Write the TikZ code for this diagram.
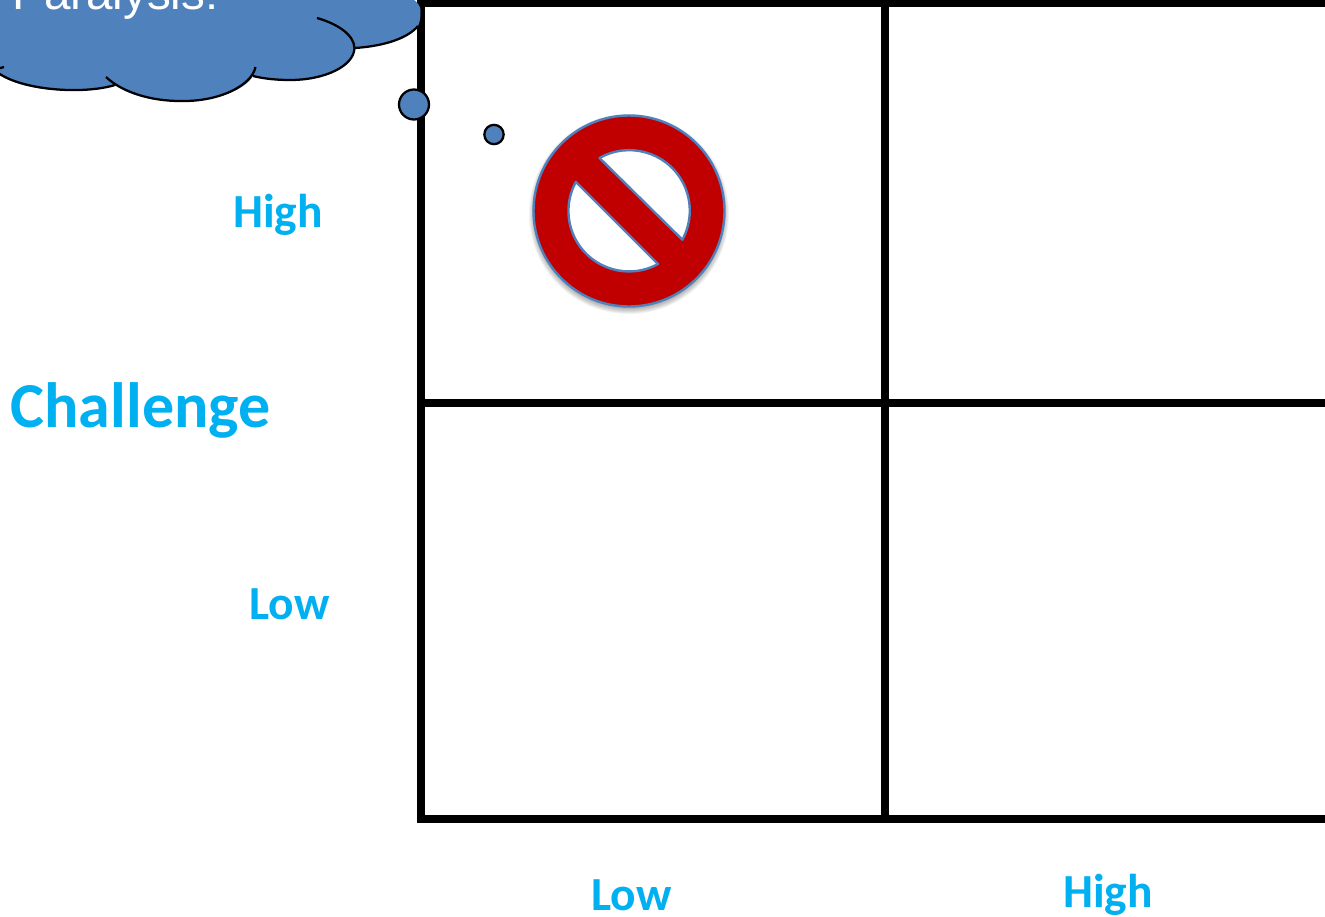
\documentclass[tikz,border=0pt]{standalone}
\usepackage{fontspec}
\setmainfont{Carlito}
\newfontfamily\cloudfont{Liberation Sans}
\definecolor{lblue}{HTML}{00B0F0}
\definecolor{shapeblue}{HTML}{4F81BD}
\definecolor{signred}{HTML}{C00000}
\tikzset{
  gridline/.style={line width=6pt,line cap=rect,black},
  gridmid/.style={line width=6pt,black},
  outline/.style={line width=1.7pt,black},
  bubble/.style={circle,draw=black,line width=1.7pt,fill=shapeblue,inner sep=0pt},
  axislabel/.style={anchor=base west,inner sep=0pt,text=lblue,font=\bfseries\fontsize{35.6}{38}\selectfont},
  bigaxis/.style={anchor=base west,inner sep=0pt,text=lblue,font=\bfseries\fontsize{48}{50}\selectfont},
  signedge/.style={draw=shapeblue,line width=1.8pt,line join=round},
}
\begin{document}
\begin{tikzpicture}[x=0.75pt,y=-0.75pt]
\useasboundingbox (0,0) rectangle (1325,917);
\clip (0,0) rectangle (1325,917);
\fill[white] (0,0) rectangle (1325,917);
% grid
\draw[gridline] (1340,3) -- (421,3) -- (421,819) -- (1340,819);
\draw[gridmid] (885,3) -- (885,819);
\draw[gridmid] (421,403) -- (1340,403);
% cloud
\fill[shapeblue] (-5,-5) -- (400,-5) .. controls (415,-3) and (421,5) .. (420.5,12)
  .. controls (420.5,17) and (420,22) .. (418,26)
  .. controls (408,38) and (385,46) .. (355,48)
  .. controls (352,68) and (320,81) .. (290,80)
  .. controls (278,80) and (264,78) .. (253,76)
  .. controls (245,90) and (215,102) .. (180,101)
  .. controls (150,101) and (128,94) .. (115,85)
  .. controls (85,94) and (25,94) .. (-5,72) -- cycle;
\draw[outline] (-3,72) .. controls (20,90) and (82,95) .. (115,85);
\draw[outline] (106,77) .. controls (122,92) and (150,101) .. (180,101)
  .. controls (220,102) and (252,85) .. (255.5,67);
\draw[outline] (253,76) .. controls (265,79) and (278,80) .. (290,80)
  .. controls (325,80) and (354,66) .. (354.5,48)
  .. controls (354,35) and (338,24) .. (317,18);
\draw[outline] (355,48) .. controls (385,46) and (408,38) .. (418,26);
\draw[outline] (-3,69) -- (4,67);
\node[anchor=base west,inner sep=0pt,text=white,font=\cloudfont\fontsize{35.7}{38}\selectfont] (cloudtext) at (12,9.5) {Paralysis!};
% thought bubbles
\node[bubble,minimum size=22.5pt] (bubbleA) at (414,104.5) {};
\node[bubble,minimum size=14.5pt] (bubbleB) at (494,134.5) {};
% sign shadow
\foreach \r in {100,99,98,97,96,95,94}{\fill[black,opacity=0.05] (629,214) circle[radius=\r];}
% sign
\fill[signred,signedge] (629,211) circle[radius=95.5];
\filldraw[fill=white,signedge] (599.5,158) arc[start angle=-119.5,end angle=28.7,radius=60.5] -- cycle;
\filldraw[fill=white,signedge] (658,264) arc[start angle=61.3,end angle=208.7,radius=60.5] -- cycle;
% labels
\node[bigaxis] (challenge) at (10.5,427) {Challenge};
\node[axislabel] (yhigh) at (233,227) {High};
\node[axislabel] (ylow) at (249,619) {Low};
\node[axislabel] (xlow) at (591,910) {Low};
\node[axislabel] (xhigh) at (1063,907) {High};
\end{tikzpicture}
\end{document}
